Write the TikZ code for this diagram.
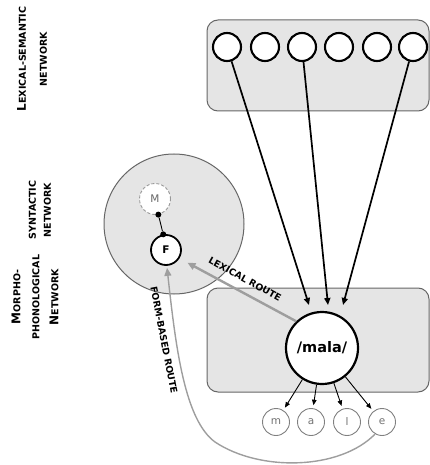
\documentclass[tikz,border=0pt]{standalone}
\usepackage{fontspec}
\setmainfont{DejaVu Sans}
\usetikzlibrary{arrows.meta}
\newcommand{\bigL}[1]{{\fontsize{12}{19}\selectfont #1}}
\begin{document}
\begin{tikzpicture}[x=1pt,y=-1pt,
  netbox/.style={draw=black!60,line width=1pt,fill=black!10,rounded corners=11pt},
  lexnode/.style={circle,draw=black,line width=2.1pt,fill=white,minimum size=28pt,inner sep=0pt},
  phon/.style={circle,draw=black!50,line width=0.9pt,fill=white,minimum size=27pt,inner sep=0pt,text=black!55,font=\fontsize{10.5}{10.5}\selectfont},
  netlabel/.style={font=\bfseries\fontsize{9.5}{19}\selectfont,align=center,rotate=90},
  routelabel/.style={font=\bfseries\fontsize{9.3}{10}\selectfont},
  lexarrow/.style={line width=1.7pt,-{Triangle[length=7pt,width=6pt]}},
  segarrow/.style={line width=0.9pt,-{Triangle[length=5.5pt,width=4.5pt]},shorten >=3pt},
  routearrow/.style={draw=black!38,-{Triangle[length=8pt,width=7pt]}}
]
\useasboundingbox (0,0) rectangle (429,465);

% network labels
\node[netlabel,font=\bfseries\fontsize{9.5}{21}\selectfont] (labLS) at (32,59) {\bigL{L}EXICAL-SEMANTIC\\NETWORK};
\node[netlabel,font=\bfseries\fontsize{9.5}{15}\selectfont] (labSY) at (40,210) {SYNTACTIC\\NETWORK};
\node[netlabel] (labMP) at (35,297) {\bigL{M}ORPHO-\\PHONOLOGICAL\\\bigL{N}ETWORK};

% lexical-semantic network
\node[netbox,minimum width=222pt,minimum height=91pt] (lsbox) at (318,65.5) {};
\foreach \i/\x in {1/227,2/265,3/302,4/339,5/377,6/413}
  \node[lexnode] (t\i) at (\x,47) {};

% morpho-phonological network
\node[netbox,minimum width=222pt,minimum height=104pt] (mpbox) at (318,340) {};
\node[circle,draw=black,line width=2.2pt,fill=white,minimum size=72pt,inner sep=0pt,font=\bfseries\fontsize{14.5}{15}\selectfont] (mala) at (322,348) {/mala/};
\node[phon] (pm) at (276,422) {m};
\node[phon] (pa) at (311,422) {a};
\node[phon] (pl) at (347,422) {l};
\node[phon] (pe) at (382,422) {e};

% syntactic network
\node[circle,draw=black!60,line width=1pt,fill=black!10,minimum size=140pt,inner sep=0pt] (syn) at (174,224) {};
\node[circle,draw=black!40,densely dashed,line width=0.9pt,fill=white,minimum size=31pt,inner sep=0pt,text=black!60,font=\fontsize{10.5}{10.5}\selectfont] (M) at (155,199) {M};
\node[circle,draw=black,line width=1.8pt,fill=white,minimum size=30pt,inner sep=0pt,font=\bfseries\fontsize{10.5}{10.5}\selectfont] (F) at (166,250) {F};
\node[circle,fill=black,minimum size=6pt,inner sep=0pt] (dM) at (M.-78) {};
\node[circle,fill=black,minimum size=6pt,inner sep=0pt] (dF) at (F.100) {};
\draw[line width=0.9pt] (dM) -- (dF);

% arrows lexical-semantic -> /mala/
\coordinate (in1) at (309,305);
\coordinate (in2) at (328,305);
\coordinate (in3) at (343,305);
\draw[lexarrow] (t1) -- (in1);
\draw[lexarrow] (t3) -- (in2);
\draw[lexarrow] (t6) -- (in3);

% /mala/ -> segments
\draw[segarrow] (mala) -- (pm);
\draw[segarrow] (mala) -- (pa);
\draw[segarrow] (mala) -- (pl);
\draw[segarrow] (mala) -- (pe);

% lexical route
\draw[routearrow,line width=2.4pt,shorten >=9pt] (mala.134) -- (F.-32);
\node[routelabel,rotate=-29] (lexlab) at (245,279) {LEXICAL ROUTE};

% form-based route
\draw[routearrow,line width=1.4pt,shorten >=2pt] (pe.-120) .. controls (340,470) and (260,472) .. (215,442) .. controls (185,420) and (176,350) .. (F.-87);
\node[routelabel,rotate=-79] (formlab) at (164,340) {FORM-BASED ROUTE};
\end{tikzpicture}
\end{document}
